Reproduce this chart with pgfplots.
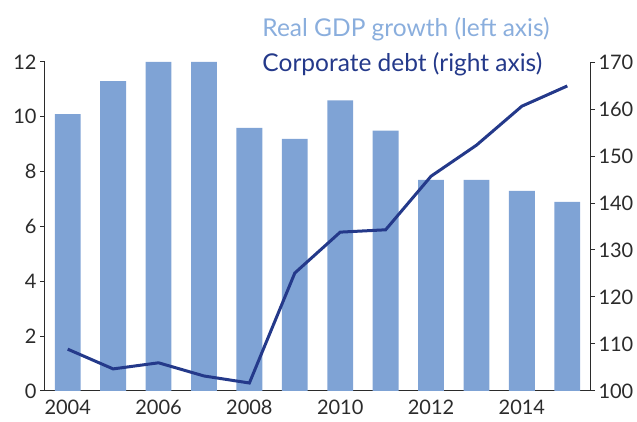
\documentclass[border=0pt]{standalone}
\usepackage{pgfplots}
\pgfplotsset{compat=1.18}
\usepackage{fontspec}
\setmainfont{Lato}
\definecolor{barblue}{HTML}{7FA3D5}
\definecolor{legblue}{HTML}{8AAEDD}
\definecolor{lineblue}{HTML}{24398A}
\definecolor{axgray}{HTML}{2B2B2B}
\begin{document}
\begin{tikzpicture}
\pgfplotsset{
  every axis/.append style={
    scale only axis, width=545pt, height=329pt,
    xmin=2003.5, xmax=2015.5,
    /pgf/number format/assume math mode=true,
    tick label style={font=\fontsize{20}{22}\selectfont, text=axgray},
    axis line style={axgray, line width=1pt},
    major tick style={axgray, line width=1pt},
    major tick length=5pt,
    tick align=outside,
  }
}
\begin{axis}[
  axis x line*=bottom, axis y line*=left,
  ymin=0, ymax=12, ytick={0,2,...,12},
  xtick={2004,2006,...,2014},
  x tick label style={/pgf/number format/1000 sep={}},
  xtick style={draw=none},
  ybar, bar width=0.57,
  legend style={draw=none, fill=none, at={(rel axis cs:0.395,1.141)}, anchor=north west,
    font=\fontsize{24.5}{29}\selectfont, row sep=10pt, legend cell align=left,
    inner sep=0pt, nodes={inner sep=2pt}},
  legend image code/.code={},
]
\addplot[fill=barblue, draw=none] coordinates {
(2004,10.1) (2005,11.3) (2006,12.0) (2007,12.0) (2008,9.6) (2009,9.2)
(2010,10.6) (2011,9.5) (2012,7.7) (2013,7.7) (2014,7.3) (2015,6.9)};
\addlegendentry{\textcolor{legblue}{Real GDP growth (left axis)}}
\addlegendimage{empty legend}
\addlegendentry{\textcolor{lineblue}{Corporate debt (right axis)}}
\end{axis}
\begin{axis}[
  axis x line=none, axis y line*=right,
  ymin=100, ymax=170, ytick={100,110,...,170},
]
\addplot[lineblue, line width=3pt, mark=none] coordinates {
(2004,108.9) (2005,104.7) (2006,106.0) (2007,103.2) (2008,101.7) (2009,125.1)
(2010,133.8) (2011,134.3) (2012,145.7) (2013,152.3) (2014,160.6) (2015,164.9)};
\end{axis}
\pgfresetboundingbox
\useasboundingbox (-45pt,-31pt) rectangle (592pt,391pt);
\end{tikzpicture}
\end{document}
